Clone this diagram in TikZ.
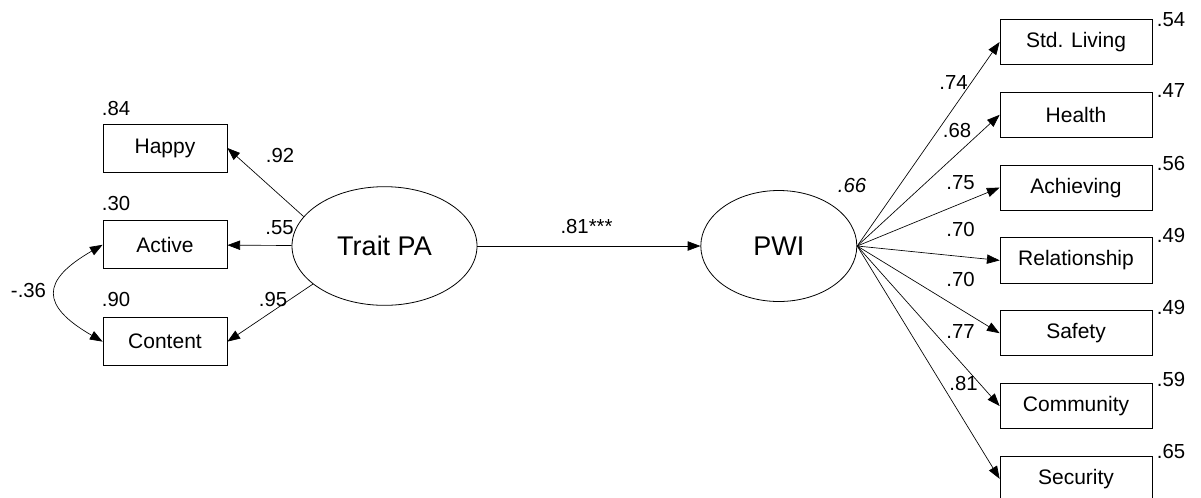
\documentclass[tikz,border=0pt]{standalone}
\usepackage{fontspec}
\setmainfont{Liberation Sans}
\usetikzlibrary{arrows.meta,positioning,shapes.geometric}

\begin{document}
\begin{tikzpicture}[
    x=0.75pt, y=-0.75pt,
    >={Triangle[length=9.5pt,width=7pt]},
    obs/.style={draw, line width=0.6pt, rectangle, inner sep=0pt,
                minimum width=93pt, minimum height=36pt,
                font=\fontsize{15.75}{18}\selectfont},
    ind/.style={obs, minimum width=114pt, minimum height=34pt},
    lat/.style={draw, line width=0.6pt, ellipse, inner sep=0pt,
                font=\fontsize{20.25}{24}\selectfont},
    est/.style={font=\fontsize{15.25}{18}\selectfont, inner sep=0pt},
    lnk/.style={->, line width=0.5pt},
  ]
  \useasboundingbox (0,0) rectangle (1201,497);

  % latent variables
  \node[lat, minimum width=138.75pt, minimum height=89pt] (trait) at (384.5,246) {Trait PA};
  \node[lat, minimum width=117pt, minimum height=83.25pt, right=167.25pt of trait] (pwi) {PWI};

  % positive affect items
  \node[obs] (happy) at (165,148) {Happy};
  \node[obs, below=36pt of happy] (active) {Active};
  \node[obs, below=36pt of active] (content) {Content};

  % PWI domains
  \node[ind] (std) at (1076,42) {Std. Living};
  \node[ind, below=20pt of std] (health) {Health};
  \node[ind, below=20pt of health] (achieving) {Achieving};
  \node[ind, below=20pt of achieving] (relation) {Relationship};
  \node[ind, below=20pt of relation] (safety) {Safety};
  \node[ind, below=20pt of safety] (community) {Community};
  \node[ind, below=20pt of community] (security) {Security};

  % paths
  \draw[lnk] (trait.160) -- (happy.east);
  \draw[lnk] (trait) -- (active);
  \draw[lnk] (trait.208) -- (content.east);
  \draw[lnk] (trait) -- (pwi);
  \foreach \v in {std,health,achieving,relation,safety,community,security}
    \draw[lnk] (pwi.east) -- (\v.west);
  \draw[<->, line width=0.5pt] (active.west) to[out=210, in=150, looseness=1.9] (content.west);

  % estimates
  \node[est] (r84) at (116,108) {.84};
  \node[est] (r30) at (116,203) {.30};
  \node[est] (r90) at (116,299) {.90};
  \node[est] (l92) at (280,155) {.92};
  \node[est] (l55) at (279.5,227.5) {.55};
  \node[est] (l95) at (273,299.5) {.95};
  \node[est] (cov) at (28.5,290) {-.36};
  \node[est] (beta) at (586.5,226) {.81***};
  \node[est, font=\fontsize{15.25}{18}\selectfont\itshape] (r66) at (852,185) {.66};

  \node[est] (l74) at (953.5,82.5) {.74};
  \node[est] (l68) at (957,130) {.68};
  \node[est] (l75) at (960.5,183) {.75};
  \node[est] (l70a) at (960.5,229) {.70};
  \node[est] (l70b) at (960.5,279.5) {.70};
  \node[est] (l77) at (960.5,331) {.77};
  \node[est] (l81) at (963.5,383.5) {.81};

  \node[est] (r54) at (1171,20) {.54};
  \node[est] (r47) at (1171,91) {.47};
  \node[est] (r56) at (1171,163) {.56};
  \node[est] (r49a) at (1171,235) {.49};
  \node[est] (r49b) at (1171,307.5) {.49};
  \node[est] (r59) at (1171,379) {.59};
  \node[est] (r65) at (1171,451) {.65};

\end{tikzpicture}
\end{document}
